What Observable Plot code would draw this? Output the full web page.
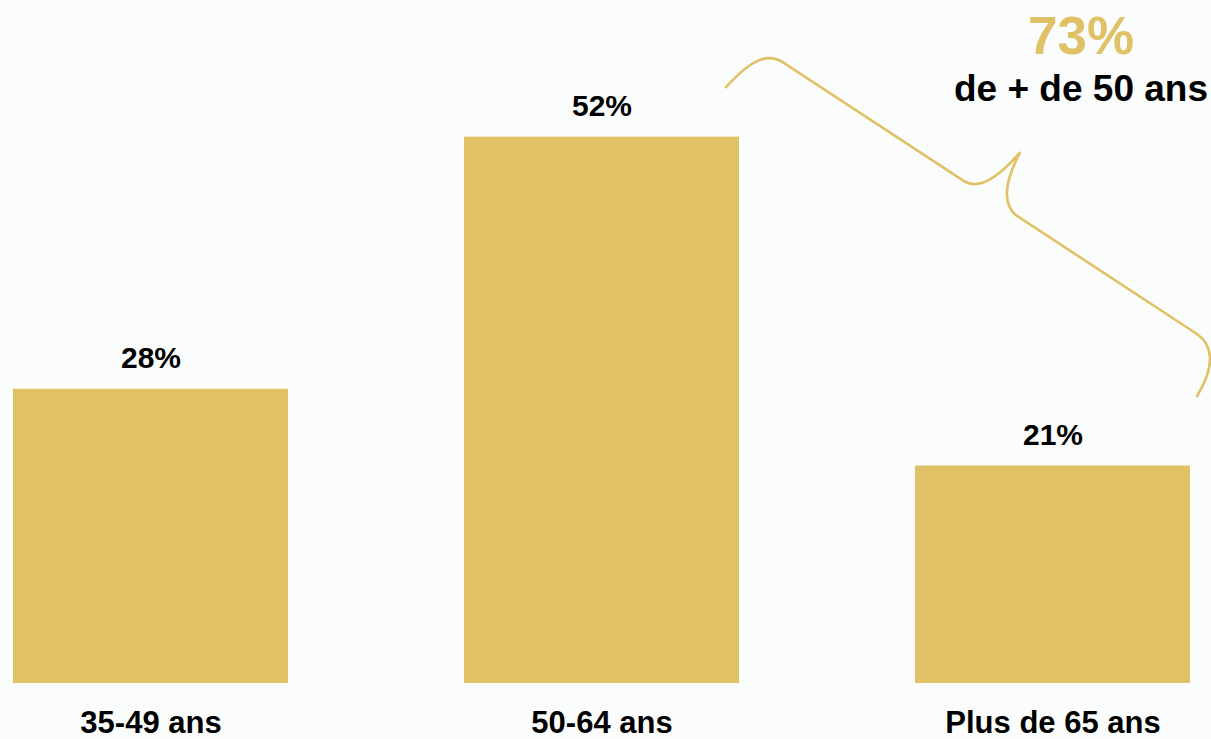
<!DOCTYPE html>
<html>
<head>
<meta charset="utf-8">
<script src="https://cdn.jsdelivr.net/npm/d3@7"></script>
<script src="https://cdn.jsdelivr.net/npm/@observablehq/plot@0.6"></script>
<style>
  html, body { margin: 0; padding: 0; background: #fbfdfd; }
  #chart { width: 1211px; height: 739px; overflow: hidden; }
  svg { font-family: "Liberation Sans", Arial, sans-serif; }
</style>
</head>
<body>
<div id="chart"></div>
<script>
const categories = ["35-49 ans", "50-64 ans", "Plus de 65 ans"];
const values = [28, 52, 20.7];
const valueLabels = ["28%", "52%", "21%"];
const annotationValue = ["73%"];
const annotationText = ["de + de 50 ans"];

const gold = "#e0c166";
const data = categories.map((c, i) => ({cat: c, value: values[i], label: valueLabels[i]}));

// curly brace spanning the two oldest groups, drawn from the scales
function brace(index, scales) {
  const x = scales.x, y = scales.y;
  const bw = x.bandwidth ? x.bandwidth() : 275;
  const x0 = x(categories[1]) + bw - 13, y0 = y(values[1] + 4.7);
  const x1 = x(categories[2]) + bw + 7, y1 = y(values[2] + 6.6);
  const dx = x1 - x0, dy = y1 - y0, L = Math.hypot(dx, dy);
  const ax = dx / L, ay = dy / L;       // along
  const nx = ay, ny = -ax;              // perpendicular (up-right)
  const k = L / 563;
  const P = (u, v) => {
    u *= k;
    return `${(x0 + u * ax + v * nx).toFixed(1)},${(y0 + u * ay + v * ny).toFixed(1)}`;
  };
  const d = `M${P(0,0)} C${P(6,38)} ${P(16,52)} ${P(34,52)} L${P(250,52)} ` +
            `C${P(270,52)} ${P(278,80)} ${P(281.5,107)} ` +
            `C${P(284,80)} ${P(292,55)} ${P(312,52)} L${P(528,52)} ` +
            `C${P(548,52)} ${P(562,36)} ${P(563,0)}`;
  const g = document.createElementNS("http://www.w3.org/2000/svg", "path");
  g.setAttribute("d", d);
  g.setAttribute("fill", "none");
  g.setAttribute("stroke", gold);
  g.setAttribute("stroke-width", "2.6");
  g.setAttribute("stroke-linecap", "round");
  return g;
}

const chart = Plot.plot({
  width: 1211,
  height: 739,
  marginLeft: 12,
  marginRight: 21,
  marginTop: 0,
  marginBottom: 56,
  style: {background: "#fbfdfd", fontFamily: "'Liberation Sans', Arial, sans-serif", overflow: "visible"},
  x: {domain: categories, paddingInner: 0.391, paddingOuter: 0, label: null},
  y: {domain: [0, 65], axis: null},
  marks: [
    Plot.barY(data, {x: "cat", y: "value", fill: gold}),
    Plot.text(data, {x: "cat", y: "value", text: "label", dy: -21, lineAnchor: "bottom",
      fontSize: 30, fontWeight: "bold", fill: "#000"}),
    Plot.axisX({tickSize: 0, tickPadding: 27, fontSize: 31, fontWeight: "bold", fill: "#000", label: null}),
    brace,
    Plot.text(annotationValue, {x: () => categories[2], text: d => d, frameAnchor: "top", dx: 28, dy: 53,
      lineAnchor: "bottom", fontSize: 53, fontWeight: "bold", fill: gold}),
    Plot.text(annotationText, {x: () => categories[2], text: d => d, frameAnchor: "top", dx: 28, dy: 100,
      lineAnchor: "bottom", fontSize: 37, fontWeight: "bold", fill: "#000"})
  ]
});
document.getElementById("chart").appendChild(chart);
</script>
</body>
</html>
